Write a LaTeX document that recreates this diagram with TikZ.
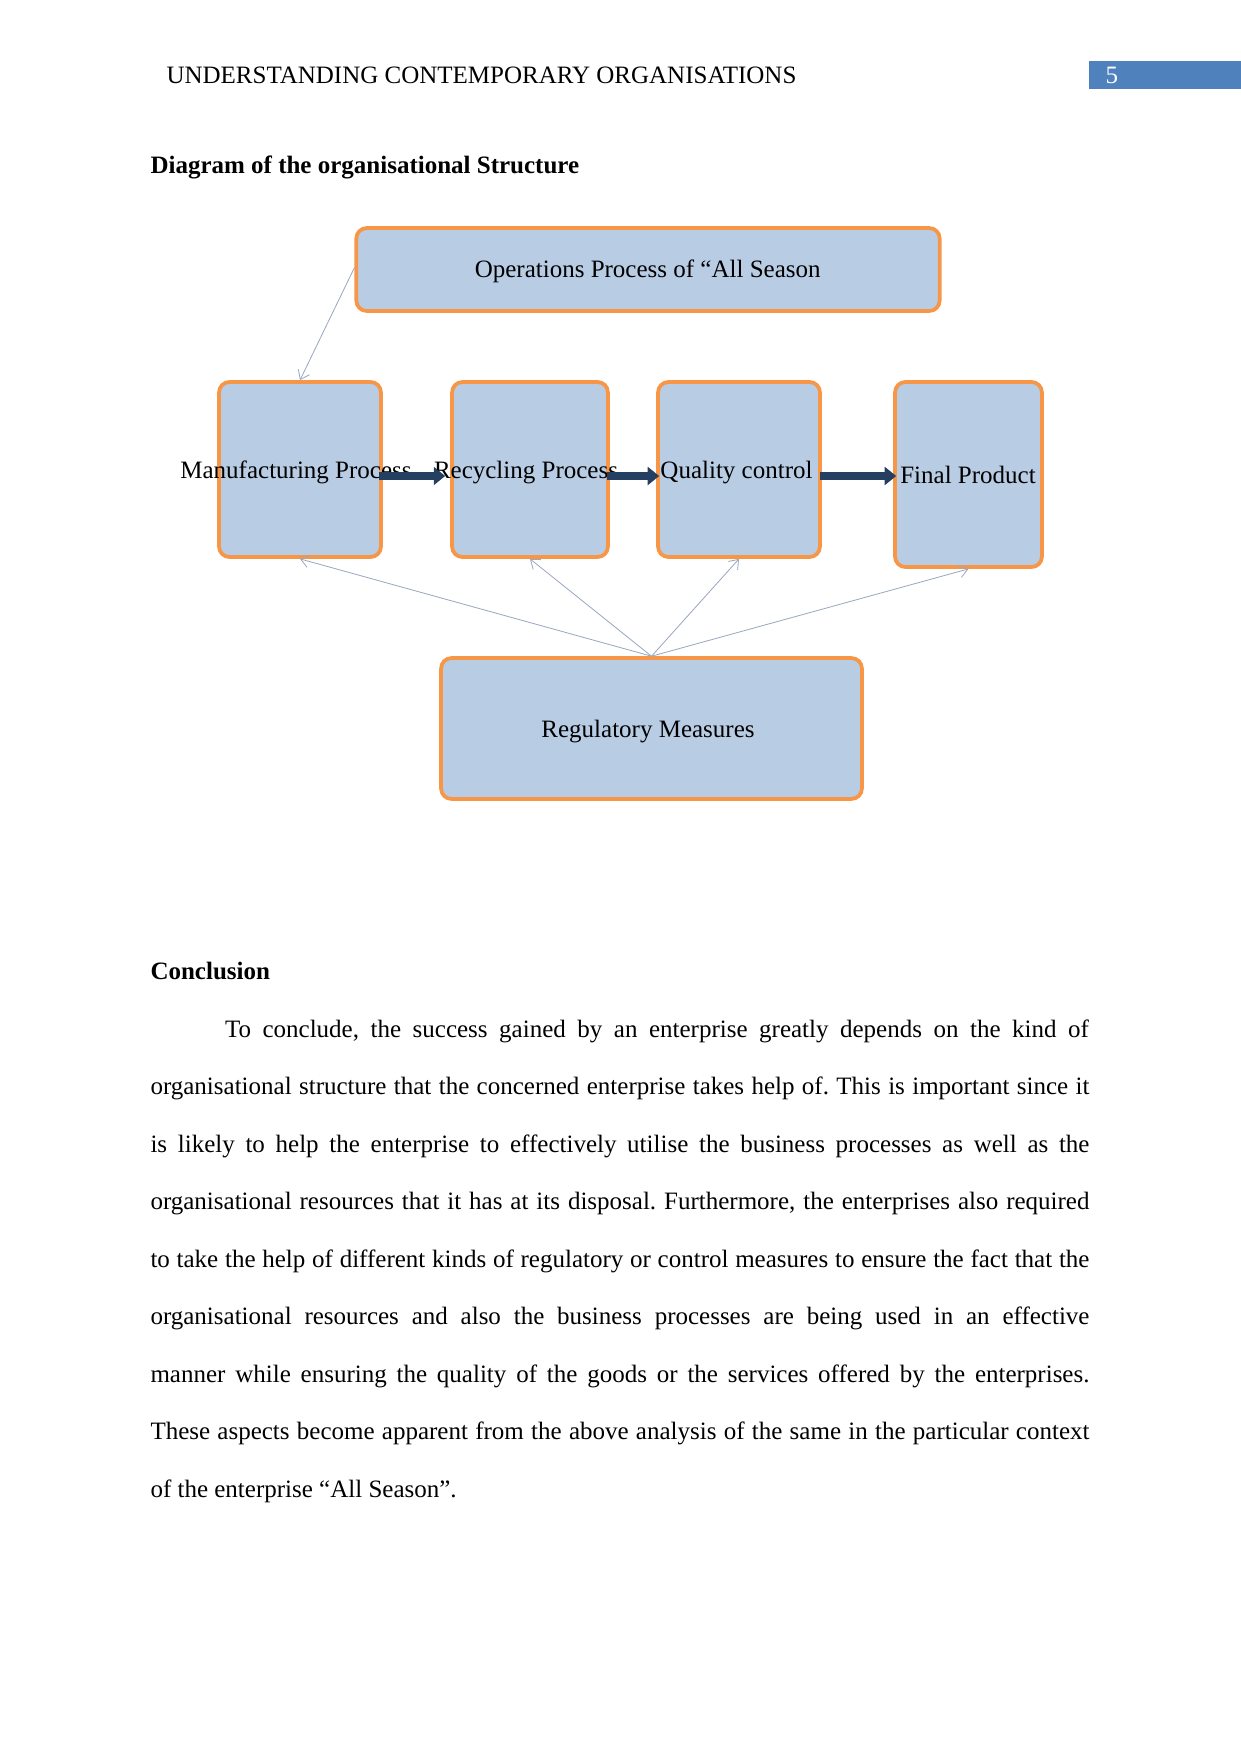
\documentclass[tikz,border=0pt]{standalone}
\usepackage{fontspec}
\setmainfont{Liberation Serif}
\usetikzlibrary{arrows.meta,calc}
\definecolor{boxfill}{HTML}{B8CCE4}
\definecolor{boxline}{HTML}{F79646}
\definecolor{navy}{HTML}{243F60}
\definecolor{conn}{HTML}{9AA8C0}
\definecolor{hdrblue}{HTML}{4F81BD}
\frenchspacing
\begin{document}
\begin{tikzpicture}[x=0.48pt,y=-0.48pt,
  every node/.style={font=\fontsize{12pt}{13.8pt}\selectfont\frenchspacing},
  txt/.style={inner sep=0pt, outer sep=0pt},
  procbox/.style={draw=boxline, fill=boxfill, line width=1.8pt, rounded corners=5pt, inner sep=0pt},
  fat/.style={draw=navy, line width=4.2pt, -{Triangle[length=5.5pt,width=8.5pt]}},
  thinconn/.style={draw=conn, line width=0.4pt, -{Straight Barb[length=4pt,width=6pt]}}]
\useasboundingbox (0,0) rectangle (1241,1754);
% header
\node[txt, anchor=base west] (hdr) at (166.5,83) {UNDERSTANDING CONTEMPORARY ORGANISATIONS};
\fill[hdrblue] (1089,61) rectangle (1241,89);
\node[txt, anchor=base west, text=white] (pgnum) at (1105.5,83) {5};
\node[txt, anchor=base west] (title) at (150.5,173) {\textbf{Diagram of the organisational Structure}};
% boxes
\node[procbox, minimum width=280pt, minimum height=39.8pt] (ops) at (648,269.5) {};
\node[procbox, minimum width=77.7pt, minimum height=84pt] (manu) at (300,469.5) {};
\node[procbox, minimum width=74.8pt, minimum height=84pt] (recy) at (530,469.5) {};
\node[procbox, minimum width=77.7pt, minimum height=84pt] (qual) at (739,469.5) {};
\node[procbox, minimum width=70.5pt, minimum height=88.8pt] (final) at (968.5,474.5) {};
\node[procbox, minimum width=202pt, minimum height=67.6pt] (reg) at (651.5,728.5) {};
% thin connectors
\draw[thinconn] ($(ops.west)+(0,-2)$) -- (manu.north);
\draw[thinconn] (reg.north) -- (manu.south);
\draw[thinconn] (reg.north) -- (recy.south);
\draw[thinconn] (reg.north) -- (qual.south);
\draw[thinconn] (reg.north) -- (final.south);
% labels
\node[txt, anchor=base] (opsl) at (647.7,277.5) {Operations Process of “All Season};
\node[txt, anchor=base] (manul) at (296,478) {Manufacturing Process};
\node[txt, anchor=base] (recyl) at (526,478) {Recycling Process};
\node[txt, anchor=base] (quall) at (736.5,478) {Quality control};
\node[txt, anchor=base] (finall) at (968,483.5) {Final Product};
\node[txt, anchor=base] (regl) at (648,737) {Regulatory Measures};
% thick arrows
\draw[fat] ($(manu.east)+(-4,6.5)$) -- ($(recy.west)+(-5,6.5)$);
\draw[fat] ($(recy.east)+(-3,6.5)$) -- ($(qual.west)+(3,6.5)$);
\draw[fat] ($(qual.east)+(-2,6.5)$) -- ($(final.west)+(3,1.5)$);
% conclusion
\node[txt, anchor=base west] (concl) at (150.5,979) {\textbf{Conclusion}};
\node[txt, anchor=base west] (p1) at (225,1037) {\makebox[414.7pt][s]{To conclude, the success gained by an enterprise greatly depends on the kind of}};
\node[txt, anchor=base west] (p2) at (150.5,1094.5) {\makebox[450.7pt][s]{organisational structure that the concerned enterprise takes help of. This is important since it}};
\node[txt, anchor=base west] (p3) at (150.5,1152) {\makebox[450.7pt][s]{is likely to help the enterprise to effectively utilise the business processes as well as the}};
\node[txt, anchor=base west] (p4) at (150.5,1209.5) {\makebox[450.7pt][s]{organisational resources that it has at its disposal. Furthermore, the enterprises also required}};
\node[txt, anchor=base west] (p5) at (150.5,1267) {\makebox[450.7pt][s]{to take the help of different kinds of regulatory or control measures to ensure the fact that the}};
\node[txt, anchor=base west] (p6) at (150.5,1324.5) {\makebox[450.7pt][s]{organisational resources and also the business processes are being used in an effective}};
\node[txt, anchor=base west] (p7) at (150.5,1382) {\makebox[450.7pt][s]{manner while ensuring the quality of the goods or the services offered by the enterprises.}};
\node[txt, anchor=base west] (p8) at (150.5,1439.5) {\makebox[450.7pt][s]{These aspects become apparent from the above analysis of the same in the particular context}};
\node[txt, anchor=base west] (p9) at (150.5,1497) {of the enterprise “All Season”.};
\end{tikzpicture}
\end{document}
